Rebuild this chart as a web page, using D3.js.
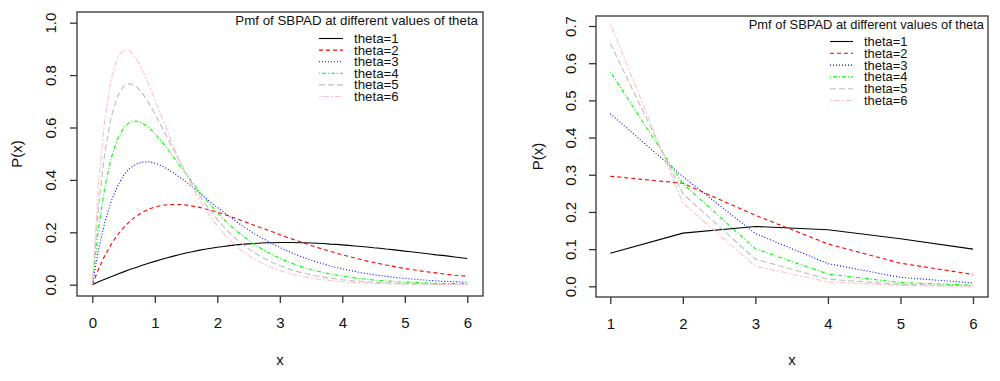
<!DOCTYPE html>
<html>
<head>
<meta charset="utf-8">
<script src="https://cdn.jsdelivr.net/npm/d3@7"></script>
<style>
  body { margin: 0; background: #fff; }
  text { font-family: "Liberation Sans", Arial, sans-serif; fill: #111; }
</style>
</head>
<body>
<script>
// pmf of SBPAD, x on a 0.1 grid (left panel)
var xCont = [0, 0.1, 0.2, 0.3, 0.4, 0.5, 0.6, 0.7, 0.8, 0.9, 1, 1.1, 1.2, 1.3, 1.4, 1.5, 1.6, 1.7, 1.8, 1.9, 2,
  2.1, 2.2, 2.3, 2.4, 2.5, 2.6, 2.7, 2.8, 2.9, 3, 3.1, 3.2, 3.3, 3.4, 3.5, 3.6, 3.7, 3.8, 3.9, 4,
  4.1, 4.2, 4.3, 4.4, 4.5, 4.6, 4.7, 4.8, 4.9, 5, 5.1, 5.2, 5.3, 5.4, 5.5, 5.6, 5.7, 5.8, 5.9, 6]

var cont1 = [0, .011, .021, .030, .040, .049, .058, .066, .074, .082, .089, .096, .103, .109, .115, .121, .126, .131, .135, .139, .143,
  .146, .149, .152, .154, .156, .157, .159, .160, .160, .161, .161, .161, .160, .160, .159, .158, .157, .155, .154, .152,
  .150, .148, .146, .144, .141, .139, .136, .134, .131, .128, .126, .123, .120, .117, .114, .112, .109, .106, .103, .100]
var cont2 = [0, .060, .111, .153, .189, .218, .242, .261, .276, .288, .296, .302, .305, .306, .306, .304, .300, .296, .290, .284, .277,
  .269, .261, .253, .244, .235, .226, .217, .209, .200, .191, .182, .174, .166, .158, .150, .142, .135, .128, .121, .114,
  .108, .102, .096, .090, .085, .080, .075, .071, .066, .062, .058, .055, .051, .048, .045, .042, .039, .036, .034, .032]
var cont3 = [0, .134, .238, .317, .375, .417, .444, .461, .468, .469, .464, .455, .442, .427, .410, .392, .373, .353, .334, .314, .295,
  .277, .259, .242, .225, .209, .194, .180, .167, .154, .142, .131, .121, .111, .102, .094, .086, .079, .072, .066, .061,
  .055, .051, .046, .042, .038, .035, .032, .029, .026, .024, .022, .020, .018, .016, .015, .013, .012, .011, .010, .009]
var cont4 = [0, .216, .373, .482, .555, .598, .620, .625, .617, .601, .577, .549, .519, .487, .454, .422, .390, .359, .330, .302, .276,
  .251, .228, .207, .188, .170, .153, .138, .124, .112, .101, .090, .081, .072, .065, .058, .052, .046, .041, .037, .033,
  .029, .026, .023, .021, .018, .016, .014, .013, .011, .010, .009, .008, .007, .006, .005, .005, .004, .004, .003, .003]
var cont5 = [0, .299, .504, .638, .718, .757, .768, .757, .731, .695, .653, .608, .561, .515, .470, .426, .385, .347, .311, .279, .249,
  .222, .197, .175, .155, .137, .121, .107, .094, .083, .073, .064, .056, .049, .043, .038, .033, .029, .025, .022, .019,
  .017, .014, .013, .011, .009, .008, .007, .006, .005, .005, .004, .004, .003, .003, .002, .002, .002, .001, .001, .001]
var cont6 = [0, .380, .630, .783, .865, .897, .893, .864, .820, .766, .707, .646, .586, .527, .472, .421, .373, .330, .291, .256, .224,
  .196, .171, .149, .129, .112, .097, .084, .073, .063, .054, .047, .040, .035, .030, .026, .022, .019, .016, .014, .012,
  .010, .009, .007, .006, .005, .005, .004, .003, .003, .002, .002, .002, .002, .001, .001, .001, .001, .001, .001, .000]

// pmf at integer x (right panel)
var xDisc = [1, 2, 3, 4, 5, 6]
var disc1 = [.089, .143, .161, .152, .128, .100]
var disc2 = [.296, .277, .191, .114, .062, .032]
var disc3 = [.464, .295, .142, .061, .024, .009]
var disc4 = [.577, .276, .101, .033, .010, .003]
var disc5 = [.653, .249, .073, .019, .005, .001]
var disc6 = [.707, .224, .054, .012, .002, .000]

var labels = ['theta=1', 'theta=2', 'theta=3', 'theta=4', 'theta=5', 'theta=6']
var colors = ['#000000', '#ff0000', '#0000ff', '#00ff00', '#bebebe', '#ffc0cb']
var dashes = [null, '4,3', '1,2', '1,2,4,2', '6,3', '2,2,6,2']
var legendTitle = 'Pmf of SBPAD at different values of theta'

var svg = d3.select('body').append('svg')
  .attr('width', 1000).attr('height', 381)

function panel(o) {
  var g = svg.append('g')
  var x = d3.scaleLinear().domain(o.xDomain).range(o.xRange)
  var y = d3.scaleLinear().domain(o.yDomain).range(o.yRange)

  var line = d3.line()
    .x(function(d) { return x(d[0]) })
    .y(function(d) { return y(d[1]) })

  o.series.forEach(function(vals, i) {
    g.append('path')
      .datum(o.xs.map(function(v, j) { return [v, vals[j]] }))
      .attr('d', line)
      .attr('fill', 'none')
      .attr('stroke', colors[i])
      .attr('stroke-width', 1.1)
      .attr('stroke-dasharray', dashes[i])
  })

  // box
  g.append('rect')
    .attr('x', o.box[0]).attr('y', o.box[1])
    .attr('width', o.box[2] - o.box[0]).attr('height', o.box[3] - o.box[1])
    .attr('fill', 'none').attr('stroke', '#333').attr('stroke-width', 1.3)

  var xa = g.append('g')
    .attr('transform', 'translate(0,' + o.box[3] + ')')
    .call(d3.axisBottom(x).tickValues(o.xTicks).tickSize(7).tickPadding(14)
      .tickFormat(d3.format('d')))
  xa.select('.domain').remove()
  xa.selectAll('line').attr('stroke', '#333').attr('stroke-width', 1.3)
  xa.selectAll('text').attr('font-size', 15).attr('fill', '#111')
    .style('font-family', '"Liberation Sans", Arial, sans-serif')

  var ya = g.append('g')
    .attr('transform', 'translate(' + o.box[0] + ',0)')
    .call(d3.axisLeft(y).tickValues(o.yTicks).tickSize(7).tickFormat(d3.format('.1f')))
  ya.select('.domain').remove()
  ya.selectAll('line').attr('stroke', '#333').attr('stroke-width', 1.3)
  ya.selectAll('text')
    .attr('x', null).attr('dy', null)
    .attr('transform', 'translate(' + o.yLabX + ',0) rotate(-90)')
    .attr('text-anchor', 'middle')
    .attr('dominant-baseline', 'central')
    .attr('font-size', 15).attr('fill', '#111')
    .style('font-family', '"Liberation Sans", Arial, sans-serif')

  g.append('text')
    .attr('x', (o.box[0] + o.box[2]) / 2).attr('y', 359)
    .attr('text-anchor', 'middle').attr('dominant-baseline', 'central')
    .attr('font-size', 15).text('x')
  g.append('text')
    .attr('transform', 'translate(' + o.titleX + ',' + (o.box[1] + o.box[3]) / 2 + ') rotate(-90)')
    .attr('text-anchor', 'middle').attr('dominant-baseline', 'central')
    .attr('font-size', 15).text('P(x)')

  // legend
  var lg = g.append('g')
  lg.append('text')
    .attr('x', o.leg.titleRight).attr('y', o.leg.titleY)
    .attr('text-anchor', 'end').attr('dominant-baseline', 'central')
    .attr('font-size', o.leg.fs).text(legendTitle)
  labels.forEach(function(lab, i) {
    var yy = o.leg.y0 + i * o.leg.step
    lg.append('line')
      .attr('x1', o.leg.x1).attr('x2', o.leg.x2)
      .attr('y1', yy).attr('y2', yy)
      .attr('stroke', colors[i]).attr('stroke-width', 1.1)
      .attr('stroke-dasharray', dashes[i])
    lg.append('text')
      .attr('x', o.leg.tx).attr('y', yy)
      .attr('dominant-baseline', 'central')
      .attr('font-size', o.leg.fs).text(lab)
  })
}

panel({
  xs: xCont,
  series: [cont1, cont2, cont3, cont4, cont5, cont6],
  xDomain: [0, 6], xRange: [92.3, 467.3],
  yDomain: [0, 1], yRange: [284.7, 22.7],
  box: [77, 12, 483, 296],
  xTicks: [0, 1, 2, 3, 4, 5, 6],
  yTicks: [0, 0.2, 0.4, 0.6, 0.8, 1],
  yLabX: -27, titleX: 16,
  leg: { titleRight: 478, titleY: 20, x1: 319, x2: 343, tx: 354, y0: 38.5, step: 11.6, fs: 13.3 }
})

panel({
  xs: xDisc,
  series: [disc1, disc2, disc3, disc4, disc5, disc6],
  xDomain: [1, 6], xRange: [610.3, 973],
  yDomain: [0, 0.7], yRange: [286.3, 26],
  box: [596, 16, 988, 297],
  xTicks: [1, 2, 3, 4, 5, 6],
  yTicks: [0, 0.1, 0.2, 0.3, 0.4, 0.5, 0.6, 0.7],
  yLabX: -26, titleX: 537,
  leg: { titleRight: 984, titleY: 24, x1: 830, x2: 853, tx: 864, y0: 41.5, step: 11.8, fs: 12.9 }
})
</script>
</body>
</html>
